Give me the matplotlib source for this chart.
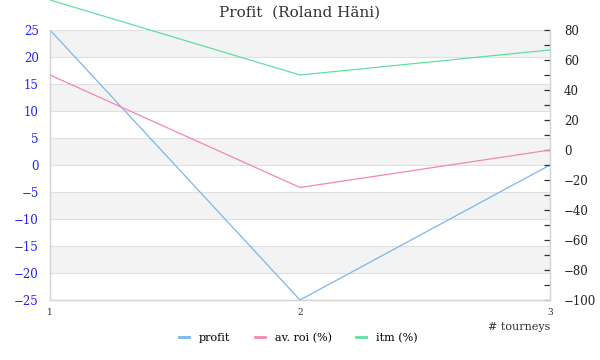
import matplotlib
matplotlib.use("Agg")
import matplotlib.pyplot as plt
from matplotlib.ticker import MultipleLocator
from matplotlib.lines import Line2D

plt.rcParams['font.family'] = ['DejaVu Serif']

# data
tourneys = [1, 2, 3]
profit = [25, -25, 0]
avg_roi = [50, -25, 0]
itm = [100, 50, 66.7]

left_ticks = [25, 20, 15, 10, 5, 0, -5, -10, -15, -20, -25]
right_ticks = [80, 60, 40, 20, 0, -20, -40, -60, -80, -100]

colors = {'profit': '#7cb5ec', 'av. roi (%)': '#f386b2', 'itm (%)': '#5fe0a0'}

fig = plt.figure(figsize=(6, 3.6), dpi=100)
ax1 = fig.add_axes([50 / 600, 60 / 360, 500 / 600, 270 / 360])
ax2 = ax1.twinx()

# alternating bands + grid lines on the left axis
for i in range(len(left_ticks) - 1):
    if i % 2 == 0:
        ax1.axhspan(left_ticks[i + 1], left_ticks[i], color='#f3f3f3', zorder=0, lw=0)
for t in left_ticks:
    ax1.axhline(t, color='#e0e0e0', lw=0.8, zorder=0.5)

ax1.plot(tourneys, profit, color=colors['profit'], lw=0.9, zorder=3)
ax2.plot(tourneys, avg_roi, color=colors['av. roi (%)'], lw=0.9, zorder=3)
ax2.plot(tourneys, itm, color=colors['itm (%)'], lw=0.9, clip_on=False, zorder=3)

ax1.set_xlim(1, 3)
ax1.set_ylim(-25, 25)
ax2.set_ylim(-100, 80)
ax1.set_xticks(tourneys)
ax1.set_yticks(left_ticks)
ax2.set_yticks(right_ticks)
ax2.yaxis.set_minor_locator(MultipleLocator(10))

ax1.tick_params(axis='y', length=0, pad=8, labelsize=8.5, labelcolor='#2222ee')
ax1.tick_params(axis='x', length=0, pad=6, labelsize=6.5, labelcolor='#333333')
ax2.tick_params(axis='y', which='both', direction='in', length=4, width=0.9,
                color='#333333', pad=10, labelsize=8.5, labelcolor='#222222')

for ax in (ax1, ax2):
    ax.spines['top'].set_visible(False)
    for s in ('left', 'right', 'bottom'):
        ax.spines[s].set_color('#d4d4d4')
        ax.spines[s].set_linewidth(0.9)
ax2.patch.set_visible(False)

ax1.set_xlabel('# tourneys', fontsize=8, color='#333333', loc='right', labelpad=3)
fig.suptitle('Profit  (Roland Häni)', fontsize=11, color='#333333', y=0.985)

handles = [Line2D([], [], color=c, lw=2) for c in colors.values()]
fig.legend(handles=handles, labels=list(colors.keys()), loc='center',
           ncol=3, frameon=False, fontsize=8, handlelength=0.9, handletextpad=0.9,
           columnspacing=2.2, bbox_to_anchor=(0.497, 22 / 360))

fig.savefig('out.png', dpi=100)
